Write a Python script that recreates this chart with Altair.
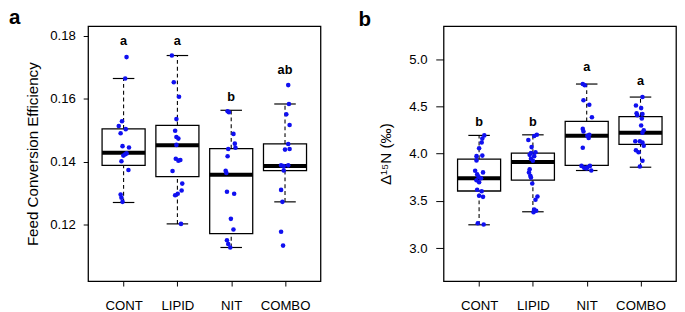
import altair as alt
import pandas as pd

groups = ["CONT", "LIPID", "NIT", "COMBO"]

# ---------- panel a : Feed Conversion Efficiency ----------
fce_points = {
    "CONT": [0.1733, 0.1665, 0.1529, 0.1514, 0.1504, 0.1491, 0.1450, 0.1446, 0.1427, 0.1420, 0.1424, 0.1402, 0.1374, 0.1296, 0.1286, 0.1273],
    "LIPID": [0.1738, 0.1653, 0.1607, 0.1536, 0.1499, 0.1479, 0.1474, 0.1454, 0.1410, 0.1406, 0.1404, 0.1371, 0.1331, 0.1309, 0.1299, 0.1294, 0.1203],
    "NIT": [0.1561, 0.1558, 0.1489, 0.1458, 0.1445, 0.1441, 0.1418, 0.1372, 0.1365, 0.1305, 0.1299, 0.1219, 0.1185, 0.1151, 0.1139, 0.1128],
    "COMBO": [0.1644, 0.1584, 0.1551, 0.1517, 0.1457, 0.1441, 0.1439, 0.1389, 0.1387, 0.1389, 0.1373, 0.1311, 0.1273, 0.1178, 0.1134],
}
fce_jitter = {
    "CONT": [0.055, 0.03, -0.03, -0.09, 0.04, -0.055, -0.02, 0.10, 0.055, -0.005, 0.03, -0.04, 0.09, -0.055, -0.04, -0.02],
    "LIPID": [-0.103, -0.067, 0.03, -0.018, -0.042, -0.018, 0.018, -0.018, -0.03, 0.055, 0.018, -0.09, 0.09, 0.079, 0.006, -0.042, 0.067],
    "NIT": [-0.067, -0.042, 0.042, 0.067, 0.079, -0.055, -0.067, -0.103, -0.09, -0.079, 0.055, -0.006, 0.042, -0.079, -0.055, -0.018],
    "COMBO": [0.06, 0.073, 0.024, 0.085, 0.06, 0.085, 0.0, -0.073, -0.024, 0.06, -0.024, -0.073, -0.048, -0.073, -0.036],
}
fce_lo = [0.1271, 0.1203, 0.1128, 0.1273]
fce_q1 = [0.1389, 0.1353, 0.1172, 0.1372]
fce_med = [0.1429, 0.1453, 0.1359, 0.1387]
fce_q3 = [0.1505, 0.1516, 0.1442, 0.1457]
fce_hi = [0.1665, 0.1738, 0.1564, 0.1584]
fce_letters = ["a", "a", "b", "ab"]
fce_letter_y = [0.1771, 0.1771, 0.1595, 0.1678]
fce_ticks = [0.12, 0.14, 0.16, 0.18]

# ---------- panel b : Delta 15N ----------
dn_points = {
    "CONT": [4.194, 4.160, 4.119, 4.057, 3.974, 3.980, 3.929, 3.819, 3.802, 3.781, 3.757, 3.719, 3.698, 3.740, 3.619, 3.602, 3.543, 3.554, 3.264, 3.251],
    "LIPID": [4.201, 4.187, 4.146, 4.070, 4.015, 4.008, 3.988, 3.974, 3.946, 3.926, 3.836, 3.802, 3.767, 3.747, 3.685, 3.547, 3.512, 3.409, 3.396, 3.381],
    "NIT": [4.739, 4.725, 4.566, 4.518, 4.387, 4.263, 4.236, 4.201, 4.166, 4.190, 4.063, 3.871, 3.850, 3.856, 3.871, 3.822, 3.843],
    "COMBO": [4.600, 4.511, 4.483, 4.429, 4.421, 4.373, 4.408, 4.298, 4.249, 4.222, 4.132, 4.132, 4.119, 4.084, 4.036, 4.015, 3.926, 3.864],
}
dn_jitter = {
    "CONT": [0.097, 0.06, 0.048, 0.0, -0.048, 0.06, -0.048, -0.073, 0.073, -0.036, -0.012, -0.048, 0.0, 0.036, -0.036, 0.048, 0.073, 0.0, -0.024, 0.085],
    "LIPID": [0.073, 0.024, -0.085, -0.024, 0.048, -0.036, -0.06, 0.024, -0.036, 0.0, -0.06, -0.073, -0.048, -0.036, -0.012, 0.085, 0.048, 0.024, 0.06, 0.012],
    "NIT": [-0.073, -0.036, -0.06, 0.048, 0.097, -0.073, -0.06, 0.048, 0.036, 0.012, -0.073, -0.097, -0.048, 0.012, 0.06, 0.085, 0.0],
    "COMBO": [0.036, -0.085, 0.012, -0.073, 0.036, 0.024, -0.06, 0.012, 0.06, 0.036, -0.097, -0.012, 0.036, 0.06, -0.085, -0.036, 0.036, -0.012],
}
dn_lo = [3.247, 3.385, 3.822, 3.857]
dn_q1 = [3.605, 3.719, 3.877, 4.098]
dn_med = [3.740, 3.912, 4.191, 4.222]
dn_q3 = [3.943, 4.005, 4.342, 4.394]
dn_hi = [4.194, 4.200, 4.738, 4.600]
dn_letters = ["b", "b", "a", "a"]
dn_letter_y = [4.29, 4.29, 4.876, 4.731]
dn_ticks = [3.0, 3.5, 4.0, 4.5, 5.0]

FONT = "Liberation Sans"
BLUE = "#1010f0"
W, H = 238, 261
tag_x = {"a": -81, "b": -87}


def panel(points, jitter, lo, q1, med, q3, hi, letters, letter_y, ticks,
          ydomain, ytitle, fmt, tag, ytick, ylabpad, ytitlepad, tag_y):
    prow = []
    for i, g in enumerate(groups):
        for v, j in zip(points[g], jitter[g]):
            prow.append({"g": g, "idx": i + 1, "v": v, "jit": j})
    pdf = pd.DataFrame(prow)
    bdf = pd.DataFrame({"g": groups, "idx": list(range(1, 5)), "lo": lo, "q1": q1,
                        "med": med, "q3": q3, "hi": hi,
                        "lab": letters, "laby": letter_y})

    xs = alt.Scale(domain=[0.34, 4.66], nice=False, zero=False)
    ys = alt.Scale(domain=ydomain, nice=False, zero=False)
    xaxis = alt.Axis(values=[1, 2, 3, 4], title=None, grid=False, domain=False,
                     tickSize=5, tickColor="black", tickWidth=1,
                     labelExpr="['','CONT','LIPID','NIT','COMBO'][datum.value]",
                     labelFont=FONT, labelFontSize=13.5, labelColor="black",
                     labelPadding=13)
    yaxis = alt.Axis(values=ticks, title=ytitle, grid=False, domain=False, format=fmt,
                     tickSize=ytick, tickColor="black", tickWidth=1,
                     labelFont=FONT, labelFontSize=13.5, labelColor="black",
                     labelPadding=ylabpad, titleFont=FONT, titleFontSize=15.5,
                     titleFontWeight="normal", titleColor="black",
                     titlePadding=ytitlepad)

    def X(f):
        return alt.X(f, scale=xs, axis=xaxis)

    def Y(f):
        return alt.Y(f, scale=ys, axis=yaxis)

    base = alt.Chart(bdf).transform_calculate(
        xl="datum.idx - 0.4", xr="datum.idx + 0.4",
        cl="datum.idx - 0.2", cr="datum.idx + 0.2")

    box = base.mark_rect(fill="white", stroke="black", strokeWidth=1.3).encode(
        x=X("xl:Q"), x2="xr:Q", y=Y("q1:Q"), y2="q3:Q")
    wlo = base.mark_rule(color="black", strokeWidth=1.1, strokeDash=[4, 3]).encode(
        x=X("idx:Q"), y=Y("lo:Q"), y2="q1:Q")
    whi = base.mark_rule(color="black", strokeWidth=1.1, strokeDash=[4, 3]).encode(
        x=X("idx:Q"), y=Y("q3:Q"), y2="hi:Q")
    clo = base.mark_rule(color="black", strokeWidth=1.2).encode(
        x=X("cl:Q"), x2="cr:Q", y=Y("lo:Q"))
    chi = base.mark_rule(color="black", strokeWidth=1.2).encode(
        x=X("cl:Q"), x2="cr:Q", y=Y("hi:Q"))
    medr = base.mark_rule(color="black", strokeWidth=4).encode(
        x=X("xl:Q"), x2="xr:Q", y=Y("med:Q"))
    pts = alt.Chart(pdf).transform_calculate(px="datum.idx + datum.jit").mark_circle(
        color=BLUE, opacity=1, size=22).encode(x=X("px:Q"), y=Y("v:Q"))
    labs = base.mark_text(font=FONT, fontSize=13, fontWeight="bold", color="black",
                          baseline="alphabetic").encode(
        x=X("idx:Q"), y=Y("laby:Q"), text="lab:N")
    tagm = alt.Chart(pd.DataFrame({"t": [tag]})).mark_text(
        font=FONT, fontSize=21, fontWeight="bold", color="black",
        align="left", baseline="alphabetic").encode(
        x=alt.value(tag_x[tag]), y=alt.value(tag_y), text="t:N")

    return alt.layer(box, wlo, whi, clo, chi, medr, pts, labs, tagm).properties(
        width=W, height=H)


pa = panel(fce_points, fce_jitter, fce_lo, fce_q1, fce_med, fce_q3, fce_hi,
           fce_letters, fce_letter_y, fce_ticks, [0.1021, 0.1831],
           "Feed Conversion Efficiency", ".2f", "a", 5, 8, 10, -2)
pb = panel(dn_points, dn_jitter, dn_lo, dn_q1, dn_med, dn_q3, dn_hi,
           dn_letters, dn_letter_y, dn_ticks, [2.65, 5.35],
           "Δ¹⁵N (‰)", ".1f", "b", 8, 9, 16, 0)

chart = alt.hconcat(pa, pb, spacing=37).configure(
    padding={"top": -5, "left": 0, "right": 0, "bottom": 0}).configure_view(
    stroke="black", strokeWidth=1.3)

chart.save("out.html", embed_options={"renderer": "svg", "actions": False})
